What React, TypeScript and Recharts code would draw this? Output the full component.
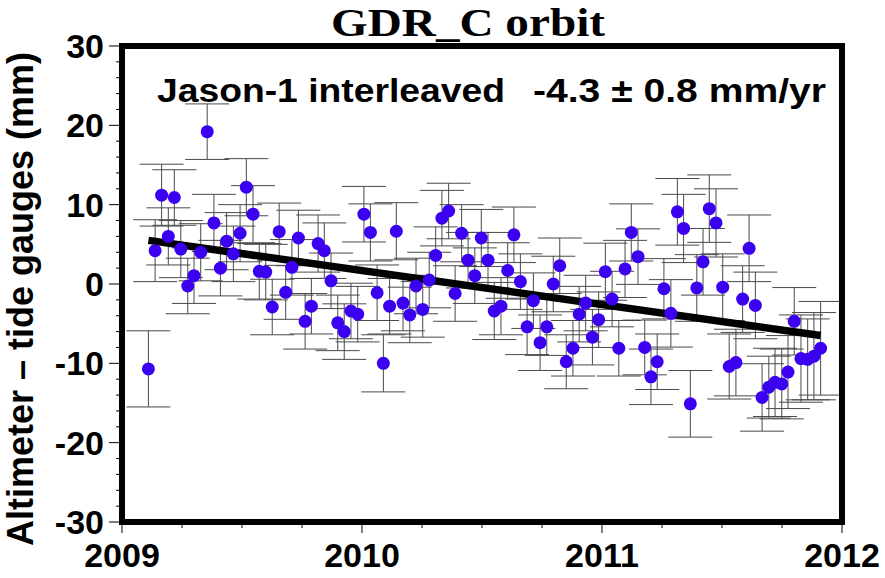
import React from 'react';
import { ComposedChart, Scatter, XAxis, YAxis, ErrorBar } from 'recharts';

// decimal year of each 10-day cycle
const cycleYears = [
  2009.110, 2009.138, 2009.165, 2009.193, 2009.218, 2009.245, 2009.274, 2009.300,
  2009.328, 2009.355, 2009.383, 2009.410, 2009.436, 2009.464, 2009.492, 2009.518,
  2009.546, 2009.572, 2009.599, 2009.626, 2009.655, 2009.682, 2009.708, 2009.735,
  2009.763, 2009.789, 2009.817, 2009.843, 2009.871, 2009.899, 2009.926, 2009.954,
  2009.982, 2010.008, 2010.035, 2010.063, 2010.089, 2010.115, 2010.143, 2010.171,
  2010.199, 2010.225, 2010.253, 2010.280, 2010.307, 2010.333, 2010.361, 2010.388,
  2010.415, 2010.442, 2010.470, 2010.497, 2010.525, 2010.551, 2010.579, 2010.607,
  2010.633, 2010.660, 2010.688, 2010.714, 2010.742, 2010.770, 2010.797, 2010.824,
  2010.851, 2010.879, 2010.905, 2010.932, 2010.960, 2010.986, 2011.014, 2011.042,
  2011.070, 2011.096, 2011.122, 2011.150, 2011.178, 2011.204, 2011.230, 2011.258,
  2011.287, 2011.314, 2011.340, 2011.368, 2011.395, 2011.421, 2011.447, 2011.475,
  2011.503, 2011.530, 2011.558, 2011.586, 2011.613, 2011.639, 2011.667, 2011.695,
  2011.721, 2011.749, 2011.775, 2011.801, 2011.829, 2011.857, 2011.883, 2011.911,
];

// altimeter minus tide gauge (mm)
const differences = [
  -10.7, 4.2, 11.2, 6.0, 10.9, 4.4, -0.25, 1.05,
  4.0, 19.2, 7.7, 2.0, 5.4, 3.8, 6.4, 12.2,
  8.8, 1.6, 1.5, -2.9, 6.6, -1.05, 2.1, 5.8,
  -4.7, -2.8, 5.1, 4.2, 0.4, -4.9, -6.0, -3.4,
  -3.8, 8.8, 6.5, -1.1, -10.0, -2.8, 6.65, -2.4,
  -3.9, -0.25, -3.2, 0.5, 3.6, 8.3, 9.2, -1.2,
  6.4, 3.0, 1.05, 5.8, 3.0, -3.4, -2.8, 1.7,
  6.2, 0.3, -5.4, -2.1, -7.4, -5.4, 0.0, 2.3,
  -9.8, -8.1, -3.8, -2.4, -6.7, -4.5, 1.55, -1.9,
  -8.1, 1.9, 6.5, 3.45, -8.0, -11.7, -9.8, -0.6,
  -3.7, 9.1, 7.0, -15.1, -0.5, 2.8, 9.5, 7.7,
  -0.4, -10.4, -9.9, -1.9, 4.5, -2.7, -14.3, -13.0,
  -12.4, -12.6, -11.1, -4.7, -9.4, -9.5, -9.1, -8.1,
];

// one-sigma uncertainty (mm)
const uncertainties = [
  4.8, 3.9, 3.9, 3.6, 3.5, 3.6, 3.5, 3.5,
  3.6, 3.5, 3.6, 3.5, 3.6, 3.5, 3.6, 3.6,
  3.6, 3.5, 3.5, 3.5, 3.6, 3.4, 3.5, 3.5,
  3.5, 3.5, 3.6, 3.5, 3.5, 3.5, 3.5, 3.5,
  3.5, 3.5, 3.6, 3.5, 3.6, 3.5, 3.6, 3.5,
  3.5, 3.5, 3.5, 3.5, 3.6, 3.5, 3.5, 3.5,
  3.6, 3.5, 3.5, 3.6, 3.5, 3.6, 3.6, 3.5,
  3.5, 3.5, 3.5, 3.5, 3.5, 3.6, 3.5, 3.5,
  3.4, 3.5, 3.5, 3.5, 3.5, 3.5, 3.6, 3.5,
  3.5, 3.6, 3.6, 3.5, 3.45, 3.5, 3.5, 3.8,
  4.25, 4.2, 4.3, 4.2, 4.2, 4.2, 4.25, 4.3,
  4.2, 4.1, 4.2, 4.2, 4.2, 4.2, 4.25, 3.9,
  4.3, 4.4, 4.6, 4.25, 5.5, 5.1, 5.5, 5.9,
];

// fitted trend, -4.3 mm/yr
const trendYears = [2009.110, 2011.911];
const trendValues = [5.5, -6.5];

const xTicks = [
  2009, 2009.25, 2009.5, 2009.75, 2010, 2010.25, 2010.5, 2010.75,
  2011, 2011.25, 2011.5, 2011.75, 2012,
];
const yTicks = [
  -30, -28, -26, -24, -22, -20, -18, -16, -14, -12, -10, -8, -6, -4, -2, 0,
  2, 4, 6, 8, 10, 12, 14, 16, 18, 20, 22, 24, 26, 28, 30,
];

const points = cycleYears.map((x, i) => ({ x, y: differences[i], err: uncertainties[i] }));
const trend = trendYears.map((x, i) => ({ x, y: trendValues[i] }));

const sans = "'Liberation Sans', Arial, Helvetica, sans-serif";
const labelStyle = { fontFamily: sans, fontWeight: 700, fontSize: 34, fill: '#000' };
const frame = { stroke: '#000', strokeWidth: 6, strokeLinecap: 'square' as const };

const BottomTick = ({ x, y, payload }: any) => {
  const major = Number.isInteger(payload.value);
  return (
    <g>
      <line x1={x} y1={y} x2={x} y2={y + (major ? 11 : 6)} stroke="#000" />
      {major && (
        <text x={x} y={y + 45} textAnchor="middle" style={labelStyle}>
          {payload.value}
        </text>
      )}
    </g>
  );
};

const TopTick = ({ x, y, payload }: any) => {
  const major = Number.isInteger(payload.value);
  return <line x1={x} y1={y} x2={x} y2={y - (major ? 13 : 6)} stroke="#000" />;
};

const LeftTick = ({ x, y, payload }: any) => {
  const major = payload.value % 10 === 0;
  return (
    <g>
      <line x1={x} y1={y} x2={x - (major ? 13 : 6)} y2={y} stroke="#000" />
      {major && (
        <text x={x - 18} y={y + 12} textAnchor="end" style={labelStyle}>
          {payload.value}
        </text>
      )}
    </g>
  );
};

const RightTick = ({ x, y, payload }: any) => {
  const major = payload.value % 10 === 0;
  return <line x1={x} y1={y} x2={x + (major ? 12 : 6)} y2={y} stroke="#000" />;
};

export default function App() {
  return (
    <div style={{ position: 'absolute', left: 0, top: 0, width: 885, height: 578, background: '#fff' }}>
      <ComposedChart width={885} height={578} margin={{ top: 0, right: 0, bottom: 0, left: 0 }}>
        <XAxis
          dataKey="x"
          type="number"
          domain={[2009, 2012]}
          ticks={xTicks}
          interval={0}
          height={56}
          tickSize={0}
          tickMargin={0}
          tickLine={false}
          axisLine={frame}
          tick={BottomTick}
        />
        <XAxis
          xAxisId="top"
          orientation="top"
          type="number"
          domain={[2009, 2012]}
          ticks={xTicks}
          interval={0}
          height={46}
          tickSize={0}
          tickMargin={0}
          tickLine={false}
          axisLine={frame}
          tick={TopTick}
        />
        <YAxis
          dataKey="y"
          type="number"
          domain={[-30, 30]}
          ticks={yTicks}
          interval={0}
          width={122}
          tickSize={0}
          tickMargin={0}
          tickLine={false}
          axisLine={frame}
          tick={LeftTick}
        />
        <YAxis
          yAxisId="right"
          orientation="right"
          type="number"
          domain={[-30, 30]}
          ticks={yTicks}
          interval={0}
          width={43}
          tickSize={0}
          tickMargin={0}
          tickLine={false}
          axisLine={frame}
          tick={RightTick}
        />
        <Scatter
          data={trend}
          line={{ stroke: '#000', strokeWidth: 7.5 }}
          shape={() => <g />}
          isAnimationActive={false}
        />
        <Scatter
          data={points}
          isAnimationActive={false}
          shape={(p: any) => <circle cx={p.cx} cy={p.cy} r={6.5} fill="#3b00ef" />}
        >
          <ErrorBar dataKey="err" direction="y" width={22} stroke="#4a4a4a" strokeWidth={1} />
        </Scatter>
      </ComposedChart>
      <svg
        width={885}
        height={578}
        style={{ position: 'absolute', left: 0, top: 0, pointerEvents: 'none' }}
      >
        <text
          x={468}
          y={36}
          textAnchor="middle"
          textLength={274}
          lengthAdjust="spacingAndGlyphs"
          style={{ fontFamily: "'Liberation Serif', 'Times New Roman', serif", fontWeight: 700, fontSize: 40 }}
        >
          GDR_C orbit
        </text>
        <text x={157} y={102} textLength={348} lengthAdjust="spacingAndGlyphs" style={labelStyle}>
          Jason-1 interleaved
        </text>
        <text x={533} y={102} textLength={293} lengthAdjust="spacingAndGlyphs" style={labelStyle}>
          -4.3 ± 0.8 mm/yr
        </text>
        <text
          x={33}
          y={299}
          textAnchor="middle"
          transform="rotate(-90 33 299)"
          style={{ ...labelStyle, fontSize: 36 }}
        >
          Altimeter – tide gauges (mm)
        </text>
      </svg>
    </div>
  );
}
